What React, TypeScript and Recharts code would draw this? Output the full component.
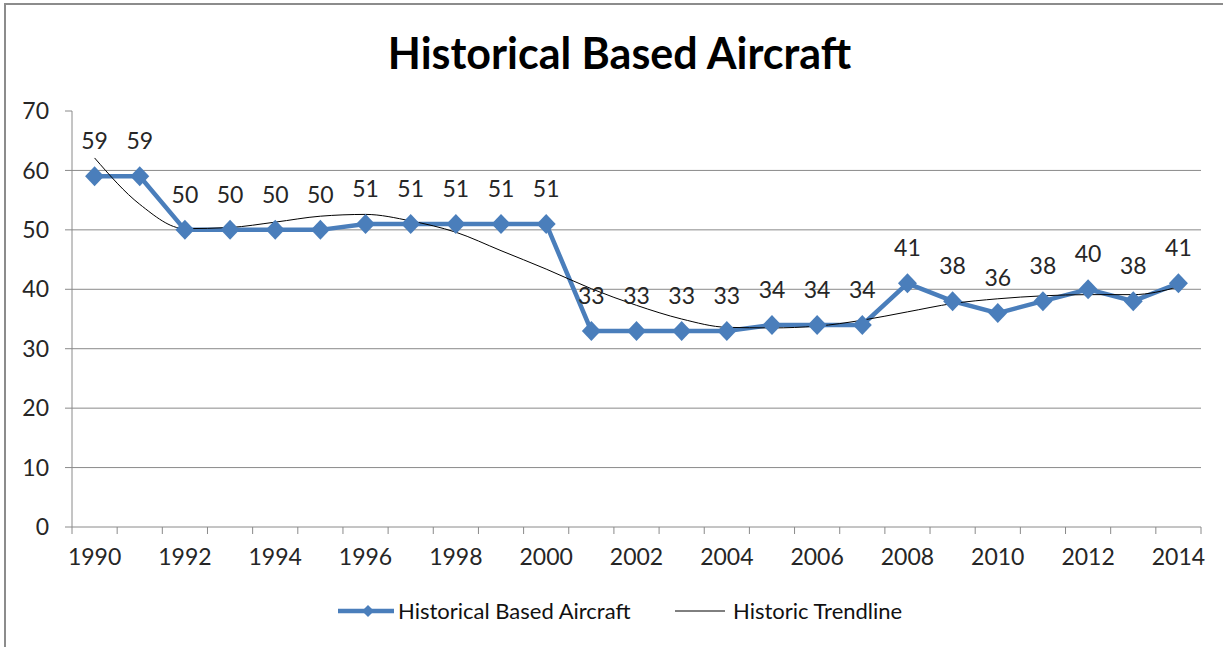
import React from 'react'
import { LineChart, Line, XAxis, YAxis, CartesianGrid, Legend, LabelList } from 'recharts'

// based aircraft counts per year
const years = [
  1990, 1991, 1992, 1993, 1994, 1995, 1996, 1997, 1998, 1999, 2000, 2001, 2002,
  2003, 2004, 2005, 2006, 2007, 2008, 2009, 2010, 2011, 2012, 2013, 2014,
]
const basedAircraft = [
  59, 59, 50, 50, 50, 50, 51, 51, 51, 51, 51, 33, 33,
  33, 33, 34, 34, 34, 41, 38, 36, 38, 40, 38, 41,
]
// polynomial trendline as it appears in the picture (estimated per year)
const trendline = [
  62.1, 54.3, 50.2, 50.4, 51.3, 52.3, 52.6, 51.5, 49.6, 46.5, 43.4, 40.1, 37.3,
  35.0, 33.6, 33.5, 33.8, 34.8, 36.2, 37.6, 38.4, 38.9, 39.1, 39.1, 40.4,
]
const yTicks = [0, 10, 20, 30, 40, 50, 60, 70]
const gridValues = [10, 20, 30, 40, 50, 60]

const data = years.map((year, i) => ({ year, based: basedAircraft[i], trend: trendline[i] }))

const BLUE = '#4A7EBB'
const GRID = '#8a8a8a'
const TEXT = '#262626'
const FONT = 'Lato, "Noto Sans", sans-serif'

// plot box
const PLOT_LEFT = 72
const PLOT_RIGHT = 1201
const STEP = (PLOT_RIGHT - PLOT_LEFT) / years.length

function XTick({ x, y, payload }: { x: number; y: number; payload: { value: number } }) {
  const yr = payload.value
  const half = STEP / 2
  return (
    <g>
      <line x1={x - half} x2={x - half} y1={y} y2={y + 7} stroke={GRID} />
      {yr === years[years.length - 1] && (
        <line x1={x + half} x2={x + half} y1={y} y2={y + 7} stroke={GRID} />
      )}
      {yr % 2 === 0 && (
        <text x={x} y={y + 38} textAnchor="middle" fill={TEXT} fontSize={23} fontFamily={FONT}>
          {yr}
        </text>
      )}
    </g>
  )
}

function Diamond(p: any) {
  const { cx, cy, index } = p
  if (cx == null || cy == null) return <g key={`d-${index}`} />
  return (
    <path
      key={`d-${index}`}
      d={`M${cx},${cy - 10} L${cx + 9.5},${cy} L${cx},${cy + 10} L${cx - 9.5},${cy} Z`}
      fill={BLUE}
    />
  )
}

function ChartLegend() {
  return (
    <div style={{ position: 'relative', width: 1223, height: 30, fontFamily: FONT, fontSize: 22, color: '#111' }}>
      <svg width={56} height={20} style={{ position: 'absolute', left: 338, top: 4 }}>
        <line x1={0} x2={56} y1={10} y2={10} stroke={BLUE} strokeWidth={4.5} />
        <path d="M30,4 L36,10 L30,16 L24,10 Z" fill={BLUE} />
      </svg>
      <span style={{ position: 'absolute', left: 398, top: 0, lineHeight: '28px', whiteSpace: 'nowrap' }}>
        Historical Based Aircraft
      </span>
      <svg width={50} height={20} style={{ position: 'absolute', left: 675, top: 4 }}>
        <line x1={0} x2={50} y1={10} y2={10} stroke="#000" strokeWidth={1} />
      </svg>
      <span style={{ position: 'absolute', left: 733, top: 0, lineHeight: '28px', whiteSpace: 'nowrap' }}>
        Historic Trendline
      </span>
    </div>
  )
}

export default function App() {
  return (
    <div style={{ position: 'absolute', left: 0, top: 0, width: 1223, height: 647, background: '#fff', overflow: 'hidden', fontFamily: FONT }}>
      <div
        style={{
          position: 'absolute', left: 4, top: 3, width: 1217, height: 642,
          borderLeft: '2px solid #8c8c8c', borderTop: '2px solid #8c8c8c',
        }}
      />
      <div
        style={{
          position: 'absolute', left: 0, top: 31, width: 1239, textAlign: 'center',
          fontSize: 43, fontWeight: 700, lineHeight: '43px', color: '#000',
        }}
      >
        Historical Based Aircraft
      </div>
      <div style={{ position: 'absolute', left: 0, top: 0 }}>
        <LineChart
          width={1223}
          height={647}
          data={data}
          margin={{ top: 111, right: 1223 - PLOT_RIGHT, bottom: 80, left: 0 }}
        >
          <CartesianGrid vertical={false} stroke={GRID} horizontalValues={gridValues} />
          <XAxis
            dataKey="year"
            type="number"
            domain={[years[0] - 0.5, years[years.length - 1] + 0.5]}
            ticks={years}
            interval={0}
            height={40}
            tickSize={0}
            tickMargin={0}
            tickLine={false}
            axisLine={{ stroke: GRID }}
            tick={(props: any) => <XTick {...props} />}
          />
          <YAxis
            domain={[0, 70]}
            ticks={yTicks}
            width={PLOT_LEFT}
            tickSize={7}
            tickMargin={16}
            axisLine={{ stroke: GRID }}
            tickLine={{ stroke: GRID }}
            tick={{ fill: TEXT, fontSize: 23, fontFamily: FONT }}
          />
          <Legend
            verticalAlign="middle"
            layout="horizontal"
            content={() => <ChartLegend />}
            wrapperStyle={{ position: 'absolute', left: 0, top: 597, width: 1223 }}
          />
          <Line
            dataKey="based"
            name="Historical Based Aircraft"
            stroke={BLUE}
            strokeWidth={4.5}
            dot={Diamond}
            activeDot={false}
            isAnimationActive={false}
          >
            <LabelList dataKey="based" position="top" offset={27} fill={TEXT} fontSize={23} fontFamily={FONT} />
          </Line>
          <Line
            dataKey="trend"
            name="Historic Trendline"
            type="monotone"
            stroke="#000"
            strokeWidth={1}
            dot={false}
            activeDot={false}
            isAnimationActive={false}
          />
        </LineChart>
      </div>
    </div>
  )
}
